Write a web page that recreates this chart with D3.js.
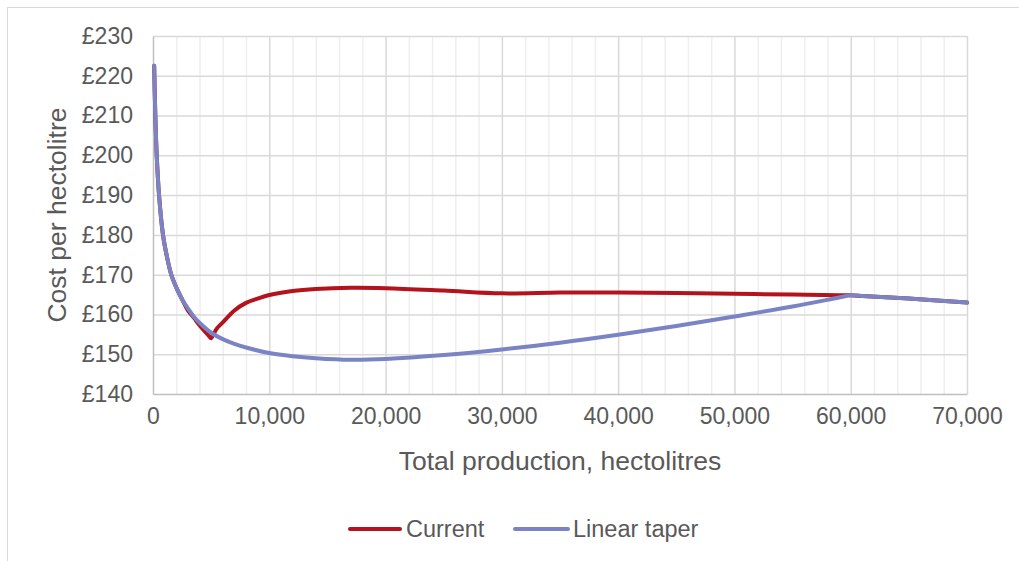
<!DOCTYPE html>
<html>
<head>
<meta charset="utf-8">
<script src="https://cdn.jsdelivr.net/npm/d3@7/dist/d3.min.js"></script>
<style>
  html, body { margin: 0; padding: 0; background: #fff; }
  svg { display: block; font-family: "Liberation Sans", Arial, sans-serif; }
</style>
</head>
<body>
<svg id="chart" width="1019" height="561"></svg>
<script>
// Production volumes (hectolitres) and cost per hectolitre (£)
const currentVolume = [100, 200, 320, 520, 860, 1200, 1570, 2000, 2500, 3000, 3500, 4000, 4500, 4800, 5000, 5200, 5500, 6000, 7000, 8000, 9000, 10000, 12000, 14000, 17000, 20000, 25000, 30000, 35000, 40000, 45000, 50000, 55000, 59000, 60000, 61000, 65000, 70000];
const currentCost   = [222.5, 210, 200, 190, 180, 174.5, 170, 166.8, 163.8, 161.0, 159.2, 157.3, 155.6, 154.6, 154.0, 155.0, 156.5, 158.0, 161.0, 162.9, 164.0, 164.9, 165.9, 166.4, 166.7, 166.6, 166.0, 165.3, 165.5, 165.5, 165.4, 165.2, 165.0, 164.85, 164.8, 164.65, 164.0, 163.0];

const taperVolume = [100, 200, 320, 520, 860, 1200, 1570, 2000, 2500, 3000, 3500, 4000, 5000, 6000, 7000, 8000, 10000, 12000, 14000, 17000, 20000, 25000, 30000, 35000, 40000, 45000, 50000, 55000, 59000, 60000, 61000, 65000, 70000];
const taperCost   = [222.5, 210, 200, 190, 180, 174.5, 170, 166.8, 163.8, 161.5, 159.5, 157.9, 155.4, 153.8, 152.6, 151.7, 150.3, 149.5, 149.0, 148.6, 148.8, 149.8, 151.2, 152.9, 154.9, 157.1, 159.5, 162.0, 164.25, 164.8, 164.65, 164.0, 163.0];

const xTicks = [0, 10000, 20000, 30000, 40000, 50000, 60000, 70000];
const xMinorTicks = d3.range(0, 70001, 2000);
const yTicks = [140, 150, 160, 170, 180, 190, 200, 210, 220, 230];

const seriesNames = ["Current", "Linear taper"];
const seriesColors = ["#B3131C", "#7A84C4"];

const svg = d3.select("#chart");
const W = 1019, H = 561;
const plot = { left: 153, right: 967, top: 36, bottom: 394 };

// chart frame
svg.append("rect")
  .attr("x", 7.5).attr("y", 7.5)
  .attr("width", W).attr("height", H)
  .attr("fill", "#fff").attr("stroke", "#d9d9d9").attr("stroke-width", 1);

const x = d3.scaleLinear().domain([0, 70000]).range([plot.left, plot.right]);
const y = d3.scaleLinear().domain([140, 230]).range([plot.bottom, plot.top]);

// minor vertical grid
svg.append("g")
  .attr("transform", `translate(0,${plot.bottom})`)
  .call(d3.axisBottom(x).tickValues(xMinorTicks.filter(v => v % 10000 !== 0))
    .tickSize(-(plot.bottom - plot.top)).tickFormat(""))
  .call(g => g.select(".domain").remove())
  .call(g => g.selectAll("line").attr("stroke", "#efefef").attr("stroke-width", 1.5));

// major vertical grid
svg.append("g")
  .attr("transform", `translate(0,${plot.bottom})`)
  .call(d3.axisBottom(x).tickValues(xTicks.slice(1))
    .tickSize(-(plot.bottom - plot.top)).tickFormat(""))
  .call(g => g.select(".domain").remove())
  .call(g => g.selectAll("line").attr("stroke", "#d9d9d9").attr("stroke-width", 1.5));

// horizontal grid
svg.append("g")
  .attr("transform", `translate(${plot.left},0)`)
  .call(d3.axisLeft(y).tickValues(yTicks.slice(1))
    .tickSize(-(plot.right - plot.left)).tickFormat(""))
  .call(g => g.select(".domain").remove())
  .call(g => g.selectAll("line").attr("stroke", "#d9d9d9").attr("stroke-width", 1.5));

// y axis with labels
const yAxis = svg.append("g")
  .attr("transform", `translate(${plot.left},0)`)
  .call(d3.axisLeft(y).tickValues(yTicks).tickSize(0).tickPadding(20)
    .tickFormat(d => "£" + d));
yAxis.select(".domain").attr("stroke", "#bfbfbf").attr("stroke-width", 1.5);
yAxis.selectAll("text").attr("fill", "#595959").attr("font-size", 23)
  .attr("font-family", "Liberation Sans, Arial, sans-serif");

// x axis with labels
const xAxis = svg.append("g")
  .attr("transform", `translate(0,${plot.bottom})`)
  .call(d3.axisBottom(x).tickValues(xTicks).tickSize(0).tickPadding(14)
    .tickFormat(d3.format(",")));
xAxis.select(".domain").attr("stroke", "#bfbfbf").attr("stroke-width", 1.5);
xAxis.selectAll("text").attr("fill", "#595959").attr("font-size", 23)
  .attr("font-family", "Liberation Sans, Arial, sans-serif");

// axis titles
svg.append("text")
  .attr("x", (plot.left + plot.right) / 2).attr("y", 470)
  .attr("text-anchor", "middle").attr("fill", "#595959").attr("font-size", 26.5)
  .text("Total production, hectolitres");

svg.append("text")
  .attr("transform", `translate(66,${(plot.top + plot.bottom) / 2}) rotate(-90)`)
  .attr("text-anchor", "middle").attr("fill", "#595959").attr("font-size", 26.5)
  .text("Cost per hectolitre");

// series lines
const line = d3.line()
  .x(d => x(d[0]))
  .y(d => y(d[1]))
  .curve(d3.curveCatmullRom.alpha(0.5));

const series = [
  d3.zip(currentVolume, currentCost),
  d3.zip(taperVolume, taperCost)
];

series.forEach((pts, i) => {
  svg.append("path")
    .datum(pts)
    .attr("d", line)
    .attr("fill", "none")
    .attr("stroke", seriesColors[i])
    .attr("stroke-width", 4)
    .attr("stroke-linejoin", "round")
    .attr("stroke-linecap", "round");
});

// legend
const legendItems = [
  { x1: 350, x2: 400, tx: 406 },
  { x1: 515, x2: 568, tx: 573 }
];
const legend = svg.append("g");
legendItems.forEach((item, i) => {
  legend.append("line")
    .attr("x1", item.x1).attr("x2", item.x2)
    .attr("y1", 529).attr("y2", 529)
    .attr("stroke", seriesColors[i]).attr("stroke-width", 4)
    .attr("stroke-linecap", "round");
  legend.append("text")
    .attr("x", item.tx).attr("y", 529)
    .attr("dominant-baseline", "central")
    .attr("fill", "#595959").attr("font-size", 23.5)
    .text(seriesNames[i]);
});
</script>
</body>
</html>
